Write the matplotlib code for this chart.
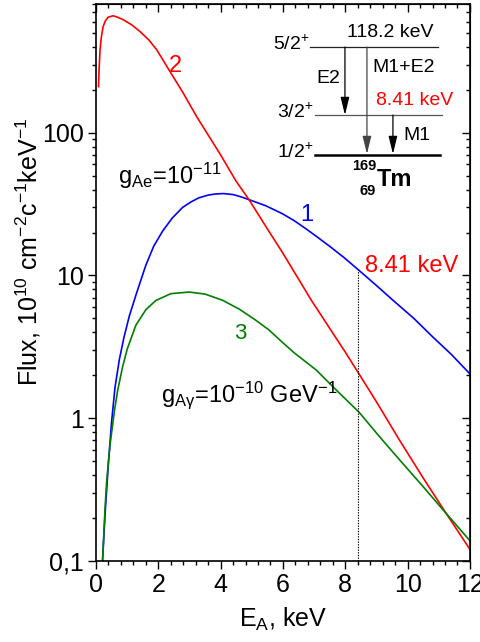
import numpy as np
import matplotlib
matplotlib.use("Agg")
import matplotlib.pyplot as plt
from matplotlib.ticker import FixedLocator, MultipleLocator, LogLocator, NullFormatter

# ── Data ────────────────────────────────────────────────────────────────────
# curve 1 : axion-electron (g_Ae = 1e-11), blue
E_blue = [0.21, 0.29, 0.40, 0.50, 0.61, 0.75, 0.90, 1.07, 1.30, 1.60, 1.85,
          2.14, 2.45, 2.78, 3.05, 3.30, 3.60, 3.85, 4.10, 4.40, 4.65, 4.91,
          5.45, 5.98, 6.35, 6.73, 7.10, 7.50, 7.95, 8.41, 9.00, 9.53, 10.2,
          10.81, 11.4, 12.0]
F_blue = [0.10, 0.21, 0.49, 0.94, 1.64, 2.58, 3.7, 5.2, 7.5, 11.8, 16.0,
          20.5, 25.3, 30.0, 32.8, 35.0, 36.6, 37.3, 37.5, 36.9, 35.6, 34.0,
          30.8, 27.1, 24.3, 21.3, 18.6, 16.0, 13.4, 11.0, 8.5, 6.7, 5.0,
          3.7, 2.8, 2.04]

# curve 2 : red
E_red = [0.08, 0.10, 0.13, 0.17, 0.23, 0.30, 0.39, 0.55, 0.70, 0.88, 1.15,
         1.41, 1.70, 1.95, 2.37, 2.80, 3.23, 4.00, 4.49, 4.91, 5.50, 6.00,
         6.91, 8.00, 8.44, 9.00, 9.74, 10.5, 11.24, 12.0]
F_red = [211, 282, 382, 468, 557, 610, 647, 662, 646, 620, 571,
         514, 447, 382, 270, 190, 130, 70, 46, 34, 21.2, 14.3,
         6.7, 2.9, 2.04, 1.3, 0.70, 0.38, 0.214, 0.12]

# curve 3 : axion-photon (g_Agamma = 1e-10 GeV^-1), green
E_green = [0.21, 0.29, 0.34, 0.45, 0.59, 0.70, 0.85, 1.00, 1.28, 1.60, 1.92,
           2.40, 2.99, 3.50, 4.06, 4.60, 5.10, 5.55, 5.98, 6.35, 6.73, 7.07,
           7.70, 8.44, 9.10, 9.74, 10.5, 11.24, 12.0]
F_green = [0.10, 0.233, 0.353, 0.649, 1.12, 1.58, 2.27, 3.04, 4.48, 5.75, 6.67,
           7.45, 7.65, 7.40, 6.70, 5.80, 4.90, 4.15, 3.40, 2.88, 2.48, 2.17,
           1.58, 1.10, 0.74, 0.51, 0.33, 0.214, 0.138]

E_LINE = 8.41                       # 169Tm M1 transition energy, keV
y_ticks = [0.1, 1, 10, 100]
y_tick_labels = ["0,1", "1", "10", "100"]
x_ticks = [0, 2, 4, 6, 8, 10, 12]

# ── Style ───────────────────────────────────────────────────────────────────
plt.rcParams["font.family"] = ["Liberation Sans", "DejaVu Sans"]
plt.rcParams["mathtext.fontset"] = "custom"
plt.rcParams["mathtext.rm"] = "Liberation Sans"
plt.rcParams["mathtext.it"] = "Liberation Sans"
plt.rcParams["mathtext.bf"] = "Liberation Sans:bold"

RED, BLUE, GREEN = "#ff0000", "#0000ff", "#008000"

fig = plt.figure(figsize=(4.8, 6.42), dpi=100)
ax = fig.add_axes([0.200, 0.1267, 0.779, 0.867])


def ref(px, py):
    """reference picture pixel -> axes fraction (for the level scheme)"""
    return (px - 96) / 374.0, (560.7 - py) / 556.7


# ── Curves ──────────────────────────────────────────────────────────────────
ax.plot(E_blue, F_blue, color=BLUE, lw=1.2)
ax.plot(E_red, F_red, color=RED, lw=1.2)
ax.plot(E_green, F_green, color=GREEN, lw=1.2)

# dotted marker from the axis up to curve 1 at 8.41 keV
y_top = 10 ** np.interp(E_LINE, E_blue, np.log10(F_blue))
ax.plot([E_LINE, E_LINE], [0.1, y_top], color="k", lw=0.8, ls=(0, (1.2, 1.2)))

# ── Axes ────────────────────────────────────────────────────────────────────
ax.set_yscale("log")
ax.set_xlim(0, 12)
ax.set_ylim(0.1, 800)
ax.xaxis.set_major_locator(FixedLocator(x_ticks))
ax.xaxis.set_minor_locator(MultipleLocator(0.4))
ax.yaxis.set_major_locator(FixedLocator(y_ticks))
ax.set_yticklabels(y_tick_labels)
ax.yaxis.set_minor_locator(LogLocator(base=10, subs=np.arange(2, 10)))
ax.yaxis.set_minor_formatter(NullFormatter())

for s in ax.spines.values():
    s.set_linewidth(1.2)
ax.tick_params(which="both", labelsize=18, width=1.0)
ax.tick_params(which="major", length=6)
ax.tick_params(which="minor", length=3.2)
ax.tick_params(axis="x", which="both", direction="out", top=False, pad=3)
ax.tick_params(axis="y", which="both", direction="out", right=False, pad=3)
# mirrored ticks on top/right point inward
sec_x = ax.secondary_xaxis("top")
sec_x.xaxis.set_major_locator(FixedLocator(x_ticks))
sec_x.xaxis.set_minor_locator(MultipleLocator(0.4))
sec_x.tick_params(which="both", direction="in", labeltop=False, width=1.0)
sec_x.tick_params(which="major", length=6)
sec_x.tick_params(which="minor", length=3.2)
sec_y = ax.secondary_yaxis("right")
sec_y.set_yscale("log")
sec_y.yaxis.set_major_locator(FixedLocator(y_ticks))
sec_y.yaxis.set_minor_locator(LogLocator(base=10, subs=np.arange(2, 10)))
sec_y.tick_params(which="both", direction="in", labelright=False, width=1.0)
sec_y.tick_params(which="major", length=6)
sec_y.tick_params(which="minor", length=3.2)

ax.set_xlabel("E$_{\\mathrm{A}}$, keV", fontsize=18, labelpad=6)
ax.set_ylabel("Flux, 10$^{10}$ cm$^{-2}$c$^{-1}$keV$^{-1}$", fontsize=18)
ax.yaxis.set_label_coords(-0.142, 0.555)

# ── Curve labels ────────────────────────────────────────────────────────────
ax.text(2.56, 294, "2", color=RED, fontsize=17, ha="center", va="center")
ax.text(6.76, 26.4, "1", color=BLUE, fontsize=17, ha="center", va="center")
ax.text(4.62, 3.9, "3", color=GREEN, fontsize=16, ha="center", va="center")
ax.text(8.62, 11.7, "8.41 keV", color=RED, fontsize=17, ha="left", va="center")
ax.text(0.70, 44, "g$_{\\mathrm{Ae}}$=10$^{-11}$", fontsize=17,
        ha="left", va="baseline")
ax.text(2.10, 1.30, "g$_{\\mathrm{A\u03b3}}$=10$^{-10}$ GeV$^{-1}$", fontsize=17,
        ha="left", va="baseline")

# ── 169Tm level scheme (inset, drawn in axes fraction) ──────────────────────
T = ax.transAxes
levels = [((310, 438, 47), 0.9, "#222222"),
          ((315, 442, 115), 0.9, "#555555"),
          ((315, 440, 155), 1.8, "#000000")]
for (x0, x1, yy), lw, c in levels:
    (a0, b0), (a1, _) = ref(x0, yy), ref(x1, yy)
    ax.plot([a0, a1], [b0, b0], transform=T, color=c, lw=lw)


def arrow(x, y0, y1, color="k"):
    ax.annotate("", xy=ref(x, y1), xytext=ref(x, y0),
                xycoords="axes fraction", textcoords="axes fraction",
                arrowprops=dict(arrowstyle="-|>,head_length=0.9,head_width=0.22",
                                color=color, lw=0.9, mutation_scale=12,
                                shrinkA=0, shrinkB=0))


arrow(345, 47, 115)
arrow(367, 47, 154, color="#444444")
arrow(393, 115, 154)

ax.text(*ref(390, 32), "118.2 keV", transform=T, fontsize=14, ha="center", va="center")
ax.text(*ref(310, 44), "5/2$^{+}$", transform=T, fontsize=14, ha="right", va="center")
ax.text(*ref(314, 112), "3/2$^{+}$", transform=T, fontsize=14, ha="right", va="center")
ax.text(*ref(314, 152), "1/2$^{+}$", transform=T, fontsize=14, ha="right", va="center")
ax.text(*ref(328, 78), "E2", transform=T, fontsize=14, ha="center", va="center")
ax.text(*ref(372, 67), "M1+E2", transform=T, fontsize=14, ha="left", va="center")
ax.text(*ref(376, 100), "8.41 keV", transform=T, fontsize=14, ha="left",
        va="center", color=RED)
ax.text(*ref(403, 135), "M1", transform=T, fontsize=14, ha="left", va="center")
ax.text(*ref(376, 166), "169", transform=T, fontsize=10.5, ha="right",
        va="center", fontweight="bold")
ax.text(*ref(376, 191), "69", transform=T, fontsize=10.5, ha="right",
        va="center", fontweight="bold")
ax.text(*ref(377, 179), "Tm", transform=T, fontsize=17, ha="left",
        va="center", fontweight="bold")

fig.savefig("out.png", dpi=100)
